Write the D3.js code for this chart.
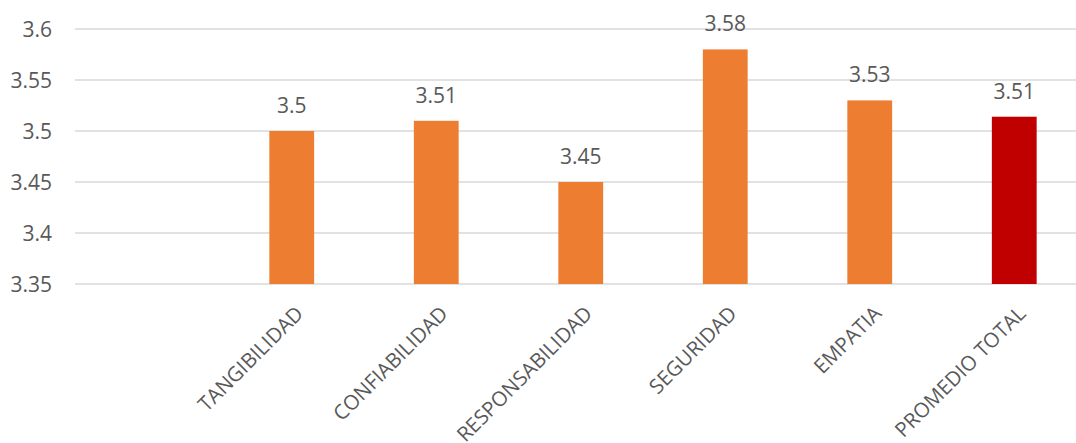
<!DOCTYPE html>
<html>
<head>
<meta charset="utf-8">
<script src="https://cdn.jsdelivr.net/npm/d3@7"></script>
<style>
  html, body { margin: 0; padding: 0; background: #fff; }
  svg { display: block; }
  text { font-family: "Open Sans", sans-serif; fill: #595959; }
</style>
</head>
<body>
<svg id="chart" width="1076" height="443"></svg>
<script>
// Dimension scores (first slot left blank on purpose)
const categories = ["", "TANGIBILIDAD", "CONFIABILIDAD", "RESPONSABILIDAD", "SEGURIDAD", "EMPATIA", "PROMEDIO TOTAL"];
const values     = [null, 3.50, 3.51, 3.45, 3.58, 3.53, 3.514];
const barColors  = [null, "#ED7D31", "#ED7D31", "#ED7D31", "#ED7D31", "#ED7D31", "#C00000"];
const yTicks     = [3.35, 3.40, 3.45, 3.50, 3.55, 3.60];

const svg = d3.select("#chart");
const W = 1076;
const plotLeft = 75, plotRight = 1086.5;
const plotTop = 29, plotBottom = 284;

const x = d3.scaleBand().domain(categories.map((c, i) => i))
  .range([plotLeft, plotRight]).paddingInner(0.69).paddingOuter(0.345);
const y = d3.scaleLinear().domain([3.35, 3.60]).range([plotBottom, plotTop]);

// gridlines
svg.append("g").selectAll("line").data(yTicks).join("line")
  .attr("x1", plotLeft).attr("x2", W)
  .attr("y1", d => y(d)).attr("y2", d => y(d))
  .attr("stroke", "#D9D9D9").attr("stroke-width", 1.3);

// y axis labels
const yAxis = d3.axisLeft(y).tickValues(yTicks).tickSize(0).tickPadding(0)
  .tickFormat(d3.format("~g"));
const gy = svg.append("g").attr("transform", `translate(52,0)`).call(yAxis);
gy.select(".domain").remove();
gy.selectAll("text").attr("font-size", 21).attr("fill", "#595959")
  .attr("font-family", "'Open Sans', sans-serif").attr("dy", "0.35em");

const data = categories.map((c, i) => ({ i, c, v: values[i], color: barColors[i] }))
  .filter(d => d.v !== null);

// bars
svg.append("g").selectAll("rect").data(data).join("rect")
  .attr("x", d => x(d.i)).attr("width", x.bandwidth())
  .attr("y", d => y(d.v)).attr("height", d => y(3.35) - y(d.v))
  .attr("fill", d => d.color);

// value labels
const fmt = d3.format(".2~f");
svg.append("g").selectAll("text").data(data).join("text")
  .attr("x", d => x(d.i) + x.bandwidth() / 2)
  .attr("y", d => y(d.v) - 18)
  .attr("text-anchor", "middle").attr("font-size", 21).attr("fill", "#404040")
  .text(d => fmt(d.v));

// category labels, rotated
svg.append("g").selectAll("text").data(data).join("text")
  .attr("transform", d => `translate(${x(d.i) + x.bandwidth() / 2 + 2},${plotBottom + 20}) rotate(-45)`)
  .attr("text-anchor", "end").attr("dy", "0.75em").attr("font-size", 20.5).attr("fill", "#595959")
  .text(d => d.c);
</script>
</body>
</html>
